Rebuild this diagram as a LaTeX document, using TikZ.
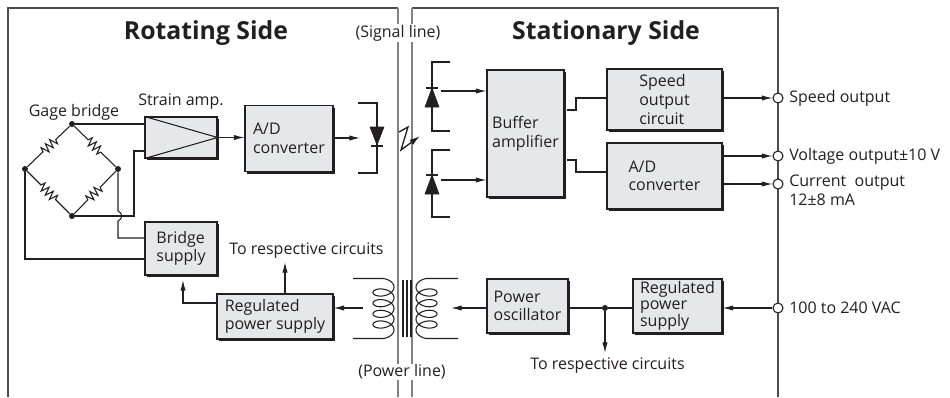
\documentclass[tikz,border=0pt]{standalone}
\usepackage{fontspec}
\setmainfont{Open Sans}
\usetikzlibrary{positioning, calc, arrows.meta, shadows, decorations.pathmorphing}
\definecolor{inkc}{HTML}{231F20}
\definecolor{boxc}{HTML}{E6E7E8}
\definecolor{railc}{HTML}{808285}
\tikzset{
  gbox/.style 2 args={draw=inkc, line width=0.8pt, fill=boxc, inner sep=0pt, align=left, text=inkc,
    minimum width=#1*0.75pt, minimum height=#2*0.75pt,
    drop shadow={shadow xshift=1.6pt, shadow yshift=-1.6pt, fill=inkc, opacity=1}},
  wire/.style={draw=inkc, line width=0.8pt},
  flow/.style={wire, -{Latex[length=8pt,width=4pt]}},
  rail/.style={draw=railc, line width=0.9pt},
  label/.style={inner sep=0.75pt, text=inkc, align=left},
  title/.style={inner sep=0.75pt, text=inkc, font=\fontsize{18.6}{21}\selectfont\bfseries},
  joint/.style={circle, fill=inkc, inner sep=0pt, minimum size=4.5pt},
  port/.style={circle, draw=inkc, line width=0.8pt, fill=white, inner sep=0pt, minimum size=7.5pt},
  diode/.style={fill=inkc, draw=inkc, line width=0.4pt},
  resistor/.style={wire, decoration={zigzag, segment length=4.4pt, amplitude=3.2pt, pre length=14.5pt, post length=14.5pt}, decorate},
  winding/.style={wire},
}
\begin{document}
\begin{tikzpicture}[x=0.75pt,y=0.75pt,yscale=-1,xscale=1,font=\fontsize{12}{14}\selectfont]
\useasboundingbox (0,0) rectangle (950,397);

%Outer frames
\draw [rail, draw=inkc!80] (8,397) -- (8,8) -- (398,8);
\draw [rail, draw=inkc!80] (412,8) -- (778,8) -- (778,397);
\draw [rail] (398,8) -- (398,397);
\draw [rail] (412,8) -- (412,397);

% Titles
\node [title] (rotating) at (206,33) {Rotating Side};
\node [title] (stationary) at (606,33) {Stationary Side};
\node [label, fill=white] (signal) at (398,33) {(Signal line)};
\node [label, fill=white] (powerline) at (402,372) {(Power line)};

%Blocks
\node [gbox={72}{41}] (strain) at (181,137.5) {};
\node [gbox={88}{66}] (adleft) at (289,138.5) {A/D\\converter};
\node [gbox={72}{53}] (bridge) at (181,248.5) {Bridge\\supply};
\node [gbox={116}{45}] (regleft) at (275,316.5) {Regulated\\power supply};
\node [gbox={77}{127}] (buffer) at (525.5,133.5) {Buffer\\amplifier};
\node [gbox={115}{61}] (speed) at (664.5,99.5) {Speed\\output\\circuit};
\node [gbox={115}{66}] (adright) at (664.5,176) {A/D\\converter};
\node [gbox={81}{54}] (osc) at (527.5,306) {Power\\oscillator};
\node [gbox={89}{54}, font=\fontsize{12}{11.5}\selectfont] (regright) at (677.5,306) {Regulated\\power\\supply};

%Strain amplifier symbol
\draw [wire] (strain.north west) -- (strain.east) -- (strain.south west);

%Gage bridge
\node [joint] (btop) at (72,124) {};
\node [joint] (bleft) at (25,169) {};
\node [joint] (bright) at (118,169) {};
\node [joint] (bbot) at (72,216) {};
\draw [resistor] (btop) -- (bleft);
\draw [resistor] (btop) -- (bright);
\draw [resistor] (bleft) -- (bbot);
\draw [resistor] (bbot) -- (bright);

% Text Node
\node [label] (gage) at (74,112) {Gage bridge};
\node [label] (strainlab) at (181,102) {Strain amp.};
\node [label] (torespa) at (306.5,251) {To respective circuits};
\node [label] (torespb) at (607.5,366) {To respective circuits};

%Bridge wiring
\coordinate (tapin) at (134,151);
\draw [wire] (btop) -- (btop -| strain.west);
\draw [wire] (bbot) -- (134,216) -- (tapin) -- (tapin -| strain.west);
\draw [wire] (bright) -- (118,211) .. controls (123,213) and (123,219) .. (118,221) -- (118,238) -- (118,238 -| bridge.west);
\draw [wire] (bleft) -- (25,259) -- (25,259 -| bridge.west);

%Rotating side flow
\coordinate (ledin) at (360,138);
\draw [flow] (strain.east) -- (adleft.west |- strain.east);
\draw [flow] (adleft.east |- ledin) -- (ledin);
\coordinate (regtap) at (217,303);
\draw [flow] (regleft.west |- regtap) -- (183,303) -- (183,280);
\draw [flow] (285,294) -- (285,262);

%Transmitting diode
\draw [wire] (358,103) -- (377,103) -- (377,173) -- (358,173);
\draw [diode] (370,127) -- (384,127) -- (377,145) -- cycle;
\draw [wire] (371,146) -- (383,146);

%Radio link
\coordinate (linka) at (399,132);
\coordinate (linkb) at (408,127);
\coordinate (linkc) at (401,150);
\coordinate (linkd) at (420,136);
\draw [wire, line width=1pt, -{Latex[length=8pt,width=4.5pt]}] (linka) -- (linkb) -- (linkc) -- (linkd);

%Receiving diodes
\coordinate (rxa) at (432,91);
\coordinate (rxb) at (432,180);
\draw [wire] (450,62) -- (432,62) -- (432,131) -- (450,131);
\draw [diode] (425,107) -- (439,107) -- (432,88) -- cycle;
\draw [wire] (426,88) -- (438,88);
\draw [wire] (450,150) -- (432,150) -- (432,217) -- (450,217);
\draw [diode] (425,194) -- (439,194) -- (432,175) -- cycle;
\draw [wire] (426,175) -- (438,175);
\draw [flow] (441,91) -- (rxa -| buffer.west);
\draw [flow] (441,180) -- (rxb -| buffer.west);

%Output ports
\node [port] (portspeed) at (778,98) {};
\node [port] (portvolt) at (778,156) {};
\node [port] (portcurr) at (778,184) {};
\node [port] (portac) at (778,308) {};
\node [label, anchor=west] (speedlab) at (788,98) {Speed output};
\node [label, anchor=west] (voltlab) at (788,156) {Voltage output±10 V};
\node [label, anchor=north west] (currlab) at (788,174) {Current~~output\\12±8 mA};
\node [label, anchor=west] (aclab) at (788,308) {100 to 240 VAC};

%Stationary side flow
\draw [wire] (567,110) -- (576,110) -- (576,98) -- (speed.west |- portspeed);
\draw [wire] (567,160) -- (576,160) -- (576,172) -- (adright.west |- 576,172);
\draw [flow] (speed.east |- portspeed) -- (portspeed);
\draw [flow] (adright.east |- portvolt) -- (portvolt);
\draw [flow] (adright.east |- portcurr) -- (portcurr);
\draw [flow] (portac) -- (regright.east |- portac);
\node [joint] (tap) at (605,308) {};
\draw [wire] (osc.east |- tap) -- (tap) -- (regright.west |- tap);
\draw [flow] (tap) -- (605,353);

%Transformer
\foreach \corex in {403,407,411} {
  \draw [wire] (\corex,280) -- (\corex,337);
}
\draw [winding] (353,278.5) -- plot [domain=-90:1530, samples=220, variable=\t] ({383.5+10.5*cos(\t)}, {284.5+0.02964*(\t+90)+6*sin(\t)}) -- (353,338.5);
\draw [winding] (458,278.5) -- plot [domain=-90:1530, samples=220, variable=\t] ({426.5-10.5*cos(\t)}, {284.5+0.02964*(\t+90)+6*sin(\t)}) -- (458,338.5);
\draw [flow] (363,308) -- (regleft.east |- 363,308);
\draw [flow] (osc.west |- 363,308) -- (451,308);
\end{tikzpicture}
\end{document}
